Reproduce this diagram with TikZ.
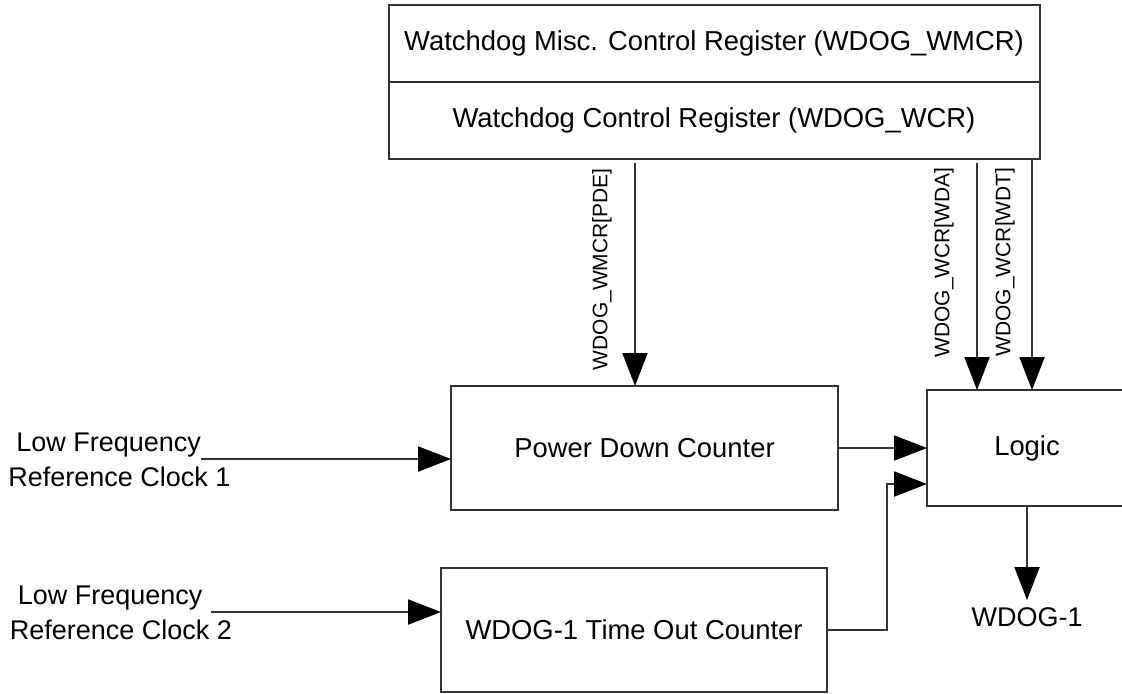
\documentclass[tikz,border=0pt]{standalone}
\usepackage{fontspec}
\setmainfont{Liberation Sans}
\usetikzlibrary{
    arrows.meta,
    positioning,
    calc
}
\tikzset{
    % --- Register / counter block ---
    block/.style = {
        rectangle, draw=black!80, line width=1pt,
        outer sep=0pt, inner sep=0pt,
        font=\fontsize{13.7}{17.5}\selectfont, align=center
    },
    % --- Port label (clock inputs, output) ---
    port/.style = {
        font=\fontsize{13.5}{17.5}\selectfont, align=center
    },
    % --- Register bit label (vertical) ---
    bit/.style = {
        font=\fontsize{10.5}{12}\selectfont,
        rotate=90, anchor=east, inner sep=0pt
    },
    % --- Signal arrow ---
    data arrow/.style = {
        -{Triangle[length=16.5pt, width=12.5pt, color=black]},
        line width=1pt, draw=black!80
    }
}

\begin{document}
\begin{tikzpicture}[x=0.5pt, y=-0.5pt]
\clip (0,0) rectangle (1122,693);

% ---------------------------------------------------------
% Control registers (top)
% ---------------------------------------------------------
\node[block, minimum width=325.5pt, minimum height=38.5pt] (WMCR) at (714,43.5) {%
    Watchdog Misc. Control Register (WDOG\_WMCR)};
\node[block, minimum width=325.5pt, minimum height=38.5pt, below=0pt of WMCR] (WCR) {%
    Watchdog Control Register (WDOG\_WCR)};

% ---------------------------------------------------------
% Counters and logic
% ---------------------------------------------------------
\node[block, minimum width=193.5pt, minimum height=62pt] (PDC) at (644.5,448) {Power Down Counter};
\node[block, minimum width=193pt, minimum height=62pt] (TOC) at (634,630) {WDOG-1 Time Out Counter};
\node[block, minimum width=100pt, minimum height=58pt] (Logic) at (1027,448) {Logic};

% ---------------------------------------------------------
% Clock inputs (left)
% ---------------------------------------------------------
\node[port, align=left] (ClkA) at (119.5,459.5) {\hspace{4pt}Low Frequency\\Reference Clock 1};
\node[port, align=left] (ClkB) at (121,612.5) {\hspace{4pt}Low Frequency\\Reference Clock 2};
\coordinate (inA) at (201,459);
\coordinate (inB) at (211,612);

\draw[data arrow] (inA) -- (inA -| PDC.west);
\draw[data arrow] (inB) -- (inB -| TOC.west);

% ---------------------------------------------------------
% Register bits
% ---------------------------------------------------------
\draw[data arrow] ($(PDC.north |- WCR.south)+(-9.5,4)$) -- ($(PDC.north)+(-9.5,0)$);
\node[bit] (PDE) at (602,168) {WDOG\_WMCR[PDE]};

\draw[data arrow] ($(Logic.north |- WCR.south)+(-50,4)$) -- ($(Logic.north)+(-50,0)$);
\node[bit] (WDA) at (944,167) {WDOG\_WCR[WDA]};

\draw[data arrow] ($(Logic.north |- WCR.south)+(5,0)$) -- ($(Logic.north)+(5,0)$);
\node[bit] (WDT) at (1005,167) {WDOG\_WCR[WDT]};

% ---------------------------------------------------------
% Counter outputs into logic
% ---------------------------------------------------------
\draw[data arrow] (PDC.east) -- (Logic.west);
\draw[data arrow] (TOC.east) -- ++(60,0) |- ($(Logic.west)+(0,36)$);

% ---------------------------------------------------------
% Output
% ---------------------------------------------------------
\node[port, inner sep=3.5pt, below=47pt of Logic] (Out) {WDOG-1};
\draw[data arrow] (Logic.south) -- (Out.north);

\end{tikzpicture}
\end{document}
